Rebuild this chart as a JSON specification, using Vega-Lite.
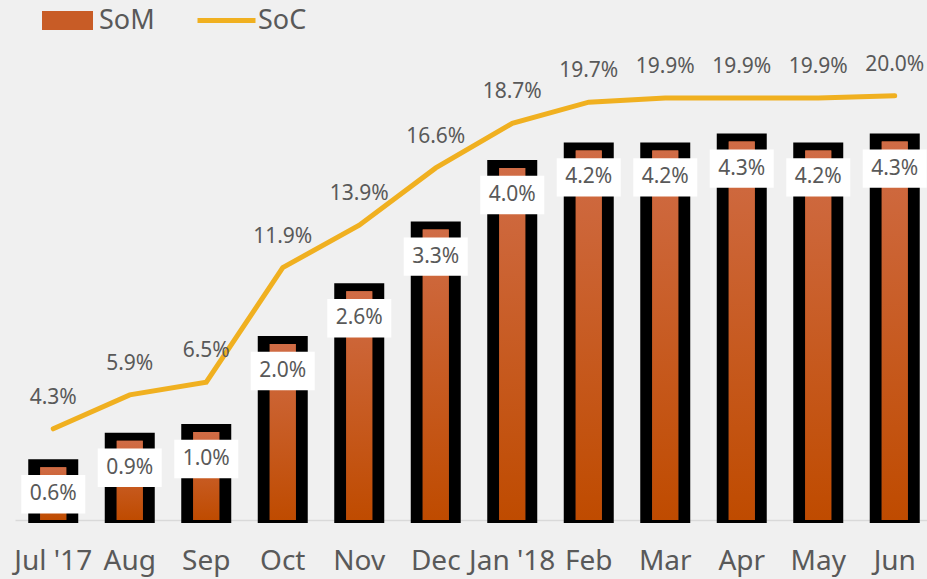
{
  "$schema": "https://vega.github.io/schema/vega-lite/v6.json",
  "width": 918,
  "height": 509,
  "padding": {"left": 15, "top": 11, "right": 0, "bottom": 59},
  "autosize": {"type": "none"},
  "background": "#f0f0f0",
  "config": {
    "view": {"stroke": null},
    "font": "Noto Sans",
    "legend": {"labelFont": "Noto Sans", "labelFontSize": 27, "labelColor": "#595959", "padding": 0, "title": null}
  },
  "data": {
    "values": [
      {"month": "Jul '17", "som": 0.006, "soc": 0.043},
      {"month": "Aug", "som": 0.009, "soc": 0.059},
      {"month": "Sep", "som": 0.010, "soc": 0.065},
      {"month": "Oct", "som": 0.020, "soc": 0.119},
      {"month": "Nov", "som": 0.026, "soc": 0.139},
      {"month": "Dec", "som": 0.033, "soc": 0.166},
      {"month": "Jan '18", "som": 0.040, "soc": 0.187},
      {"month": "Feb", "som": 0.042, "soc": 0.197},
      {"month": "Mar", "som": 0.042, "soc": 0.199},
      {"month": "Apr", "som": 0.043, "soc": 0.199},
      {"month": "May", "som": 0.042, "soc": 0.199},
      {"month": "Jun", "som": 0.043, "soc": 0.200}
    ]
  },
  "encoding": {
    "x": {
      "field": "month", "type": "nominal", "sort": null,
      "scale": {"paddingInner": 0, "paddingOuter": 0},
      "axis": {"title": null, "labelAngle": 0, "labelFontSize": 28, "labelColor": "#595959", "labelFont": "Noto Sans", "domainColor": "#d9d9d9", "domainWidth": 1.5, "ticks": false, "labelPadding": 27}
    }
  },
  "layer": [
    {
      "mark": {"type": "bar", "width": 50, "color": "#000000", "yOffset": -8, "y2Offset": 3},
      "encoding": {
        "y": {"field": "som", "type": "quantitative", "scale": {"domain": [0, 0.05784], "nice": false, "zero": true}, "axis": null},
        "y2": {"datum": 0}
      }
    },
    {
      "mark": {"type": "bar", "width": 26},
      "encoding": {
        "y": {"field": "som", "type": "quantitative", "scale": {"domain": [0, 0.05784], "nice": false, "zero": true}, "axis": null},
        "fill": {
          "datum": "SoM",
          "scale": {"domain": ["SoM"], "range": ["#c85c26"]},
          "legend": {"orient": "none", "legendX": 27, "legendY": -16, "direction": "horizontal", "symbolType": "M-1,-0.37H1V0.37H-1Z", "symbolSize": 2601, "symbolStrokeWidth": 0, "labelOffset": 6,
            "encode": {"symbols": {"update": {"fill": {"value": {"gradient": "linear", "x1": 0, "y1": 0, "x2": 0, "y2": 1, "stops": [{"offset": 0, "color": "#d06c46"}, {"offset": 1, "color": "#bf4b00"}]}}, "opacity": {"value": 1}}}}}
        }
      }
    },
    {
      "mark": {"type": "bar", "width": 26, "fill": {"gradient": "linear", "x1": 0, "y1": 0, "x2": 0, "y2": 1, "stops": [{"offset": 0, "color": "#d06c46"}, {"offset": 1, "color": "#bf4b00"}]}},
      "encoding": {
        "y": {"field": "som", "type": "quantitative", "scale": {"domain": [0, 0.05784], "nice": false, "zero": true}, "axis": null}
      }
    },
    {
      "mark": {"type": "point", "shape": "M-1,-0.6H1V0.6H-1Z", "size": 4096, "filled": true, "color": "#ffffff", "opacity": 1, "yOffset": 27},
      "encoding": {
        "y": {"field": "som", "type": "quantitative", "scale": {"domain": [0, 0.05784], "nice": false, "zero": true}, "axis": null}
      }
    },
    {
      "mark": {"type": "text", "fontSize": 21, "color": "#595959", "yOffset": 27, "baseline": "middle"},
      "encoding": {
        "y": {"field": "som", "type": "quantitative", "scale": {"domain": [0, 0.05784], "nice": false, "zero": true}, "axis": null},
        "text": {"field": "som", "type": "quantitative", "format": ".1%"}
      }
    },
    {
      "mark": {"type": "line", "strokeWidth": 5, "strokeCap": "round"},
      "encoding": {
        "y": {"field": "soc", "type": "quantitative", "scale": {"domain": [0, 0.24], "nice": false, "zero": true}, "axis": null},
        "stroke": {
          "datum": "SoC",
          "scale": {"domain": ["SoC"], "range": ["#f0b020"]},
          "legend": {"orient": "none", "legendX": 180, "legendY": -22, "direction": "horizontal", "symbolType": "stroke", "symbolSize": 3364, "symbolStrokeWidth": 5, "labelOffset": 0}
        }
      }
    },
    {
      "mark": {"type": "text", "fontSize": 21, "color": "#595959", "dy": -31, "baseline": "middle"},
      "encoding": {
        "y": {"field": "soc", "type": "quantitative", "scale": {"domain": [0, 0.24], "nice": false, "zero": true}, "axis": null},
        "text": {"field": "soc", "type": "quantitative", "format": ".1%"}
      }
    }
  ],
  "resolve": {"scale": {"y": "independent"}}
}
